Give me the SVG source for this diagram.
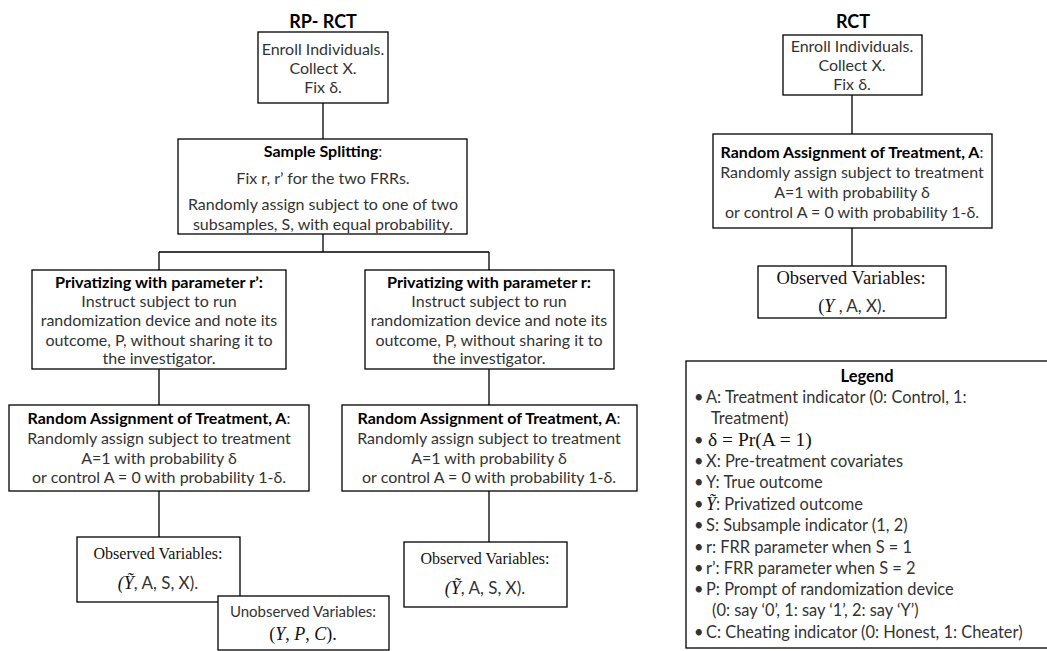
<svg xmlns="http://www.w3.org/2000/svg" width="1047" height="651" viewBox="0 0 1047 651">
<style>
.bx{fill:#fff;stroke:#000;stroke-width:1.3}
.cn{fill:none;stroke:#000;stroke-width:1.3}
text{font-family:Lato,"Liberation Sans",sans-serif;font-size:16px;fill:#333}
.c{text-anchor:middle}
.b{font-weight:bold;fill:#000}
.t{font-size:18px;font-weight:bold;fill:#000}
.s{font-family:"Liberation Serif","DejaVu Serif",serif;font-size:17px;fill:#111}
.i{font-style:italic}
.lg{font-size:16.4px}
</style>
<rect width="1047" height="651" fill="#fff"/>
<text class="t c" x="323" y="28">RP- RCT</text>
<text class="t c" x="853" y="28">RCT</text>
<g id="connectors">
<path class="cn" d="M323 103V139M323 234V252M159 252H489M159 252V270M489 252V270M159 369V405M489 369V405M159 491V537M489 491V542M852 95V134M852 228V266"/>
</g>
<g id="enroll">
<rect class="bx" x="258" y="32" width="130" height="71"/>
<text class="c" x="323" y="55">Enroll Individuals.</text>
<text class="c" x="323" y="74">Collect X.</text>
<text class="c" x="323" y="93">Fix δ.</text>
</g>
<g id="split">
<rect class="bx" x="178" y="139" width="289" height="95"/>
<text class="c" x="323" y="157"><tspan class="b">Sample Splitting</tspan>:</text>
<text class="c" x="323" y="184">Fix r, r’ for the two FRRs.</text>
<text class="c" x="323" y="210">Randomly assign subject to one of two</text>
<text class="c" x="323" y="230">subsamples, S, with equal probability.</text>
</g>
<g id="priv-left">
<rect class="bx" x="32" y="270" width="254" height="99"/>
<text class="c b" x="159" y="288" textLength="208" lengthAdjust="spacingAndGlyphs">Privatizing with parameter r’:</text>
<text class="c" x="159" y="307">Instruct subject to run</text>
<text class="c" x="159" y="326">randomization device and note its</text>
<text class="c" x="159" y="346">outcome, P, without sharing it to</text>
<text class="c" x="159" y="364">the investigator.</text>
</g>
<g id="priv-right">
<rect class="bx" x="365" y="270" width="249" height="99"/>
<text class="c b" x="489" y="288" textLength="204" lengthAdjust="spacingAndGlyphs">Privatizing with parameter r:</text>
<text class="c" x="489" y="307">Instruct subject to run</text>
<text class="c" x="489" y="326">randomization device and note its</text>
<text class="c" x="489" y="346">outcome, P, without sharing it to</text>
<text class="c" x="489" y="364">the investigator.</text>
</g>
<g id="rand-left">
<rect class="bx" x="9" y="405" width="300" height="86"/>
<text class="c" x="159" y="424"><tspan class="b">Random Assignment of Treatment, A</tspan>:</text>
<text class="c" x="159" y="444">Randomly assign subject to treatment</text>
<text class="c" x="159" y="464">A=1 with probability δ</text>
<text class="c" x="159" y="483">or control A = 0 with probability 1-δ.</text>
</g>
<g id="rand-right">
<rect class="bx" x="342" y="405" width="295" height="86"/>
<text class="c" x="489" y="424"><tspan class="b">Random Assignment of Treatment, A</tspan>:</text>
<text class="c" x="489" y="444">Randomly assign subject to treatment</text>
<text class="c" x="489" y="464">A=1 with probability δ</text>
<text class="c" x="489" y="483">or control A = 0 with probability 1-δ.</text>
</g>
<g id="obs-left">
<rect class="bx" x="77" y="537" width="163" height="65"/>
<text class="c s" x="158" y="559" style="font-size:16px">Observed Variables:</text>
<text class="c" x="158" y="589" style="font-size:17px"><tspan class="s i" style="font-size:18px">(Ỹ</tspan>, A, S, X).</text>
</g>
<g id="obs-right">
<rect class="bx" x="404" y="542" width="163" height="65"/>
<text class="c s" x="485" y="564" style="font-size:16px">Observed Variables:</text>
<text class="c" x="485" y="594" style="font-size:17px"><tspan class="s i" style="font-size:18px">(Ỹ</tspan>, A, S, X).</text>
</g>
<g id="unobs">
<rect class="bx" x="218" y="596" width="171" height="54"/>
<text class="c" x="303" y="617" style="font-size:15px">Unobserved Variables:</text>
<text class="c s" x="303" y="640" style="font-size:18px">(<tspan class="i">Y</tspan>, <tspan class="i">P</tspan>, <tspan class="i">C</tspan>).</text>
</g>
<g id="rct-enroll">
<rect class="bx" x="783" y="35" width="139" height="60"/>
<text class="c" x="852" y="52">Enroll Individuals.</text>
<text class="c" x="852" y="71">Collect X.</text>
<text class="c" x="852" y="90">Fix δ.</text>
</g>
<g id="rct-rand">
<rect class="bx" x="713" y="134" width="279" height="94"/>
<text class="c" x="852" y="158"><tspan class="b">Random Assignment of Treatment, A</tspan>:</text>
<text class="c" x="852" y="178">Randomly assign subject to treatment</text>
<text class="c" x="852" y="198">A=1 with probability δ</text>
<text class="c" x="852" y="218">or control A = 0 with probability 1-δ.</text>
</g>
<g id="rct-obs">
<rect class="bx" x="758" y="266" width="188" height="52"/>
<text class="c s" x="851" y="284" style="font-size:18.5px">Observed Variables:</text>
<text class="c" x="852" y="312" style="font-size:17px"><tspan class="s" style="font-size:18px">(</tspan><tspan class="s i" style="font-size:18px">Y</tspan> , A, X).</text>
</g>
<g id="legend">
<rect class="bx" x="686" y="361" width="362" height="287"/>
<text class="c b" x="867" y="382" style="font-size:16.5px">Legend</text>
<g class="lg">
<text class="lg" x="694" y="403">•</text><text class="lg" x="706" y="403">A: Treatment indicator (0: Control, 1:</text>
<text class="lg" x="711" y="424">Treatment)</text>
<text class="lg" x="694" y="446">•</text><text x="708" y="446" class="s" style="font-size:19.5px">δ = Pr(A = 1)</text>
<text class="lg" x="694" y="467">•</text><text class="lg" x="706" y="467">X: Pre-treatment covariates</text>
<text class="lg" x="694" y="488">•</text><text class="lg" x="706" y="488">Y: True outcome</text>
<text class="lg" x="694" y="510">•</text><text class="lg" x="706" y="510"><tspan class="s i" style="font-size:18px">Ỹ</tspan>: Privatized outcome</text>
<text class="lg" x="694" y="531">•</text><text class="lg" x="706" y="531">S: Subsample indicator (1, 2)</text>
<text class="lg" x="694" y="553">•</text><text class="lg" x="706" y="553">r: FRR parameter when S = 1</text>
<text class="lg" x="694" y="574">•</text><text class="lg" x="706" y="574">r’: FRR parameter when S = 2</text>
<text class="lg" x="694" y="595">•</text><text class="lg" x="706" y="595">P: Prompt of randomization device</text>
<text class="lg" x="712" y="616">(0: say ‘0’, 1: say ‘1’, 2: say ‘Y’)</text>
<text class="lg" x="694" y="638">•</text><text class="lg" x="706" y="638">C: Cheating indicator (0: Honest, 1: Cheater)</text>
</g>
</g>
</svg>
